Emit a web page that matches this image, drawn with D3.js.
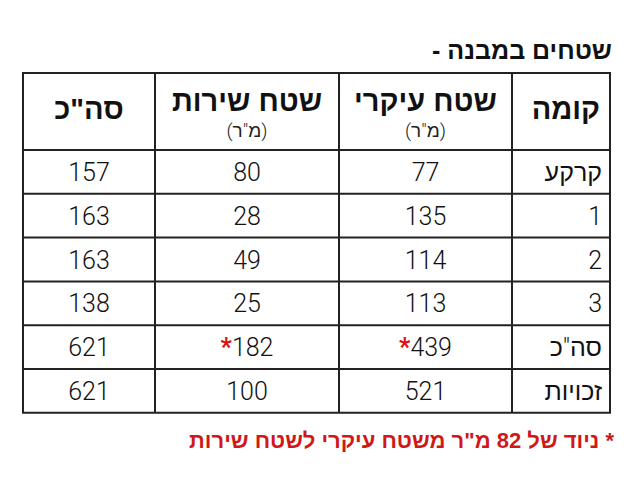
<html>
<head>
<meta charset="utf-8">
<script src="https://cdnjs.cloudflare.com/ajax/libs/d3/7.8.5/d3.min.js"></script>
<style>
body{margin:0;background:#fff;}
</style>
</head>
<body>
<svg id="chart" width="632" height="480"></svg>
<script>
var title = "שטחים במבנה -";
var footnote = "* ניוד של 82 מ\"ר משטח עיקרי לשטח שירות";
var headers = ["קומה", "שטח עיקרי", "שטח שירות", "סה\"כ"];
var subHeaders = ["", "(מ\"ר)", "(מ\"ר)", ""];
var floors = ["קרקע", "1", "2", "3", "סה\"כ", "זכויות"];
var mainArea = [77, 135, 114, 113, 439, 521];
var serviceArea = [80, 28, 49, 25, 182, 100];
var totals = [157, 163, 163, 138, 621, 621];
var starred = [false, false, false, false, true, false];

(function(){
var svg = d3.select("#chart");
// columns right-to-left: edges
var colEdges = [610, 512, 339, 155, 23];
var tableTop = 73, headH = 77, rowH = 43.8;
var y = d3.scaleLinear().domain([0, floors.length]).range([tableTop + headH, tableTop + headH + rowH * floors.length]);
var bottom = y(floors.length);

svg.append("text").attr("x", 612).attr("y", 59).attr("text-anchor", "start").attr("direction", "rtl")
  .style("font-family", "Liberation Sans, Arial").style("font-weight", "bold").style("font-size", "25px")
  .attr("fill", "#111").text(title);

// grid lines
var g = svg.append("g").attr("stroke", "#222").attr("stroke-width", 2);
colEdges.forEach(function(x){ g.append("line").attr("x1", x).attr("x2", x).attr("y1", tableTop).attr("y2", bottom); });
[tableTop].concat(d3.range(floors.length + 1).map(y)).forEach(function(v){
  g.append("line").attr("x1", 22).attr("x2", 611).attr("y1", v).attr("y2", v);
});

var mid = function(i){ return (colEdges[i] + colEdges[i+1]) / 2; };
headers.forEach(function(h, i){
  var cy = subHeaders[i] ? tableTop + 38 : tableTop + 46;
  var tx = i === 0 ? colEdges[0] - 10 : mid(i);
  svg.append("text").attr("x", tx).attr("y", cy).attr("text-anchor", i === 0 ? "start" : "middle").attr("direction", "rtl")
    .style("font-family", "Liberation Sans, Arial").style("font-weight", "bold").style("font-size", "29px")
    .attr("fill", "#111").text(h);
  if (subHeaders[i]) svg.append("text").attr("x", mid(i)).attr("y", tableTop + 64).attr("text-anchor", "middle").attr("direction", "rtl")
    .style("font-family", "Roboto, Liberation Sans").style("font-weight", 300).style("font-size", "19px")
    .attr("fill", "#222").text(subHeaders[i]);
});

var bodyFont = function(s){ return s.style("font-family", "Roboto, Liberation Sans").style("font-weight", 300).style("font-size", "25px").attr("fill", "#111"); };
floors.forEach(function(f, r){
  var cy = (y(r) + y(r+1)) / 2 + 9;
  bodyFont(svg.append("text").attr("x", colEdges[0] - 8).attr("y", cy).attr("text-anchor", "start").attr("direction", "rtl")).text(f);
  [mainArea[r], serviceArea[r], totals[r]].forEach(function(v, c){
    var t = bodyFont(svg.append("text").attr("x", mid(c+1)).attr("y", cy).attr("text-anchor", "middle"));
    if (starred[r] && c < 2) t.append("tspan").attr("fill", "#d11").style("font-weight", "bold").text("*");
    t.append("tspan").text(v);
  });
});

svg.append("text").attr("x", 614).attr("y", 448).attr("text-anchor", "start").attr("direction", "rtl")
  .style("font-family", "Liberation Sans, Arial").style("font-weight", "bold").style("font-size", "22px")
  .attr("fill", "#d01818").text(footnote);
})();
</script>
</body>
</html>
